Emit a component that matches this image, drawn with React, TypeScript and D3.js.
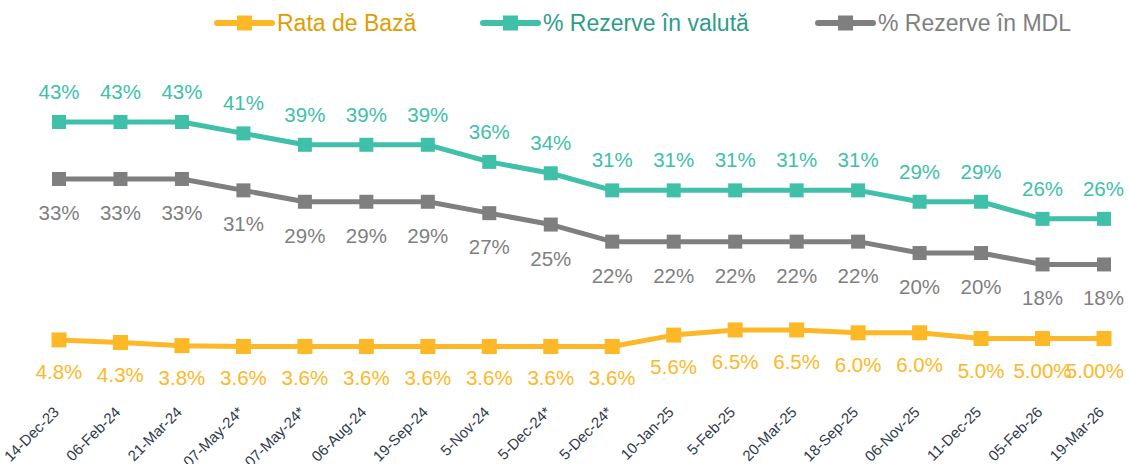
import React from "react";
import * as d3 from "d3";

const categories = ["14-Dec-23","06-Feb-24","21-Mar-24","07-May-24*","07-May-24*","06-Aug-24","19-Sep-24","5-Nov-24","5-Dec-24*","5-Dec-24*","10-Jan-25","5-Feb-25","20-Mar-25","18-Sep-25","06-Nov-25","11-Dec-25","05-Feb-26","19-Mar-26"];
const rataBaza = [4.75,4.3,3.75,3.6,3.6,3.6,3.6,3.6,3.6,3.6,5.6,6.5,6.5,6.0,6.0,5.0,5.0,5.0];
const rataLabels = ["4.8%","4.3%","3.8%","3.6%","3.6%","3.6%","3.6%","3.6%","3.6%","3.6%","5.6%","6.5%","6.5%","6.0%","6.0%","5.0%","5.00%","5.00%"];
const rezValuta = [43,43,43,41,39,39,39,36,34,31,31,31,31,31,29,29,26,26];
const rezMDL = [33,33,33,31,29,29,29,27,25,22,22,22,22,22,20,20,18,18];

const W = 1130, H = 464;
const FONT = "'Liberation Sans', Arial, sans-serif";
const C_Y = "#FDB827", C_T = "#40C0A9", C_G = "#7F7F7F";
const LFS = 20.5;

function estWidth(s: string, fs: number) {
  let w = 0;
  for (const ch of s) w += ch === "." ? 0.278 : ch === "%" ? 0.889 : 0.556;
  return w * fs;
}

export default function App() {
  const idx = categories.map((_, i) => String(i));
  const x = d3.scalePoint<string>().domain(idx).range([59, 1104]);
  const y = d3.scaleLinear().domain([0, 43]).range([367, 122]);
  const line = d3.line<number>().x((_, i) => x(String(i))!).y(d => y(d));

  const series = [
    { name: "Rata de Bază", data: rataBaza, color: C_Y, text: "#DF9E00", labels: rataLabels, off: 39, ms: 15 },
    { name: "% Rezerve în valută", data: rezValuta, color: C_T, text: "#2E9C8A", labels: rezValuta.map(v => v + "%"), off: -23, ms: 14 },
    { name: "% Rezerve în MDL", data: rezMDL, color: C_G, text: "#7F7F7F", labels: rezMDL.map(v => v + "%"), off: 41, ms: 14 },
  ];
  const legendX = [217, 483, 818];

  return (
    <svg width={W} height={H} style={{ position: "absolute", left: 0, top: 0, background: "#fff" }} fontFamily={FONT}>
      {series.map((s, k) => (
        <g key={"lg" + k}>
          <line x1={legendX[k]} x2={legendX[k] + 55} y1={23} y2={23} stroke={s.color} strokeWidth={6} strokeLinecap="round" />
          <rect x={legendX[k] + 20} y={15.5} width={15} height={15} fill={s.color} />
          <text x={legendX[k] + 60} y={31} fontSize={23} fill={s.text}>{s.name}</text>
        </g>
      ))}
      {series.map((s, k) => (
        <g key={"s" + k}>
          <path d={line(s.data)!} fill="none" stroke={s.color} strokeWidth={5} strokeLinejoin="round" />
          {s.data.map((v, i) => (
            <rect key={i} x={x(String(i))! - s.ms / 2} y={y(v) - s.ms / 2} width={s.ms} height={s.ms} fill={s.color} />
          ))}
          {s.data.map((v, i) => {
            const w = estWidth(s.labels[i], LFS);
            const cx = Math.min(x(String(i))!, 1124 - w / 2);
            return (
              <text key={"t" + i} x={cx} y={y(v) + s.off} fontSize={LFS} fill={s.color} textAnchor="middle">{s.labels[i]}</text>
            );
          })}
        </g>
      ))}
      {categories.map((c, i) => (
        <text key={"x" + i} transform={`translate(${x(String(i))! + 1},413) rotate(-45)`} textAnchor="end" fontSize={15} fill="#2F3B4C">{c}</text>
      ))}
    </svg>
  );
}
